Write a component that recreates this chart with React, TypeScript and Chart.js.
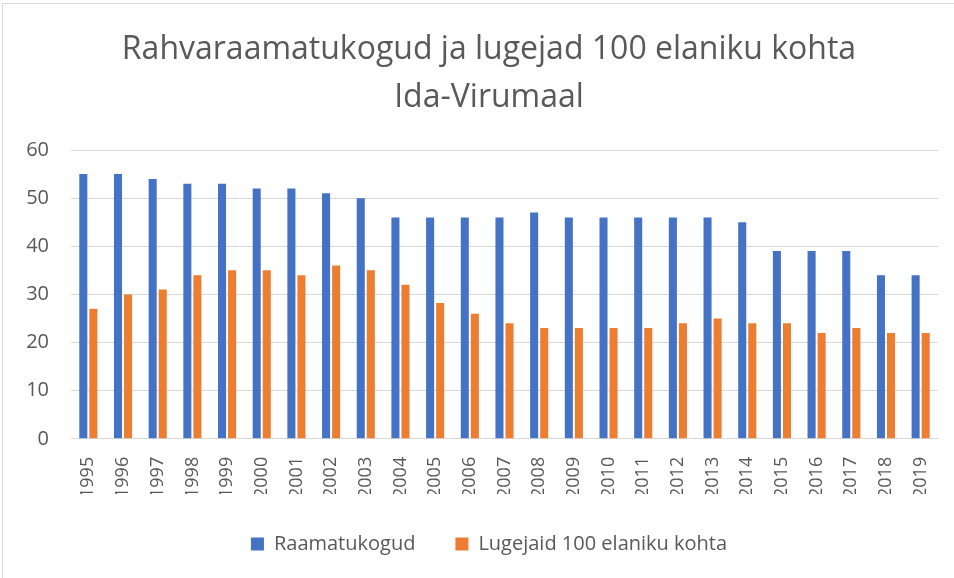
import React, { useEffect, useRef } from "react";
import { Chart, registerables } from "chart.js";

Chart.register(...registerables);

const years = ["1995","1996","1997","1998","1999","2000","2001","2002","2003","2004","2005","2006","2007","2008","2009","2010","2011","2012","2013","2014","2015","2016","2017","2018","2019"];
const raamatukogud = [55,55,54,53,53,52,52,51,50,46,46,46,46,47,46,46,46,46,46,45,39,39,39,34,34];
const lugejaid = [27,30,31,34,35,35,34,36,35,32,28.2,26,24,23,23,23,23,24,25,24,24,22,23,22,22];
const titleLines = ["Rahvaraamatukogud ja lugejad 100 elaniku kohta", "Ida-Virumaal"];
const seriesNames = ["Raamatukogud", "Lugejaid 100 elaniku kohta"];

const FONT = "'Open Sans', sans-serif";
const TEXT = "#595959";

// shift title & legend so they're centred like the original (Excel centres them on the whole chart)
const shiftBlocks = {
  id: "shiftBlocks",
  afterLayout(chart: any) {
    const dx = 18;
    for (const b of [chart.titleBlock, chart.legend]) {
      if (b) { b.left += dx; b.right += dx; }
    }
  },
};

export default function App() {
  const ref = useRef<HTMLCanvasElement | null>(null);
  useEffect(() => {
    if (!ref.current) return;
    const chart = new Chart(ref.current, {
      type: "bar",
      data: {
        labels: years,
        datasets: [
          { label: seriesNames[0], data: raamatukogud, backgroundColor: "#4472C4", borderWidth: 0 },
          { label: seriesNames[1], data: lugejaid, backgroundColor: "#ED7D31", borderWidth: 0 },
        ],
      },
      plugins: [shiftBlocks],
      options: {
        animation: false,
        responsive: false,
        maintainAspectRatio: false,
        layout: { padding: { left: 4, right: 16, top: 8, bottom: 14 } },
        datasets: { bar: { categoryPercentage: 0.58, barPercentage: 0.8 } },
        plugins: {
          title: {
            display: true,
            text: titleLines,
            color: TEXT,
            font: { family: FONT, size: 32, weight: "normal", lineHeight: 1.5 },
            padding: { top: 18, bottom: 28 },
          },
          legend: {
            position: "bottom",
            labels: {
              color: TEXT,
              font: { family: FONT, size: 20 },
              boxWidth: 13,
              boxHeight: 13,
              padding: 40,
            },
          },
          tooltip: { enabled: false },
        },
        scales: {
          x: {
            grid: { display: false },
            border: { color: "#d9d9d9" },
            ticks: {
              color: TEXT,
              font: { family: FONT, size: 18 },
              maxRotation: 90,
              minRotation: 90,
              autoSkip: false,
              padding: 10,
            },
            afterFit: (s: any) => { s.height = s.height - 14; },
          },
          y: {
            min: 0,
            max: 60,
            ticks: { stepSize: 10, color: TEXT, font: { family: FONT, size: 20 }, padding: 22 },
            grid: { color: "#d9d9d9", lineWidth: 1, drawTicks: false },
            border: { display: false },
            afterFit: (s: any) => { s.width = 67; },
          },
        },
      },
    });
    return () => chart.destroy();
  }, []);
  return (
    <div style={{ position: "fixed", left: 0, top: 0, width: 954, height: 578, background: "#fff" }}>
      <div style={{ position: "absolute", left: 2, top: 3, width: 960, height: 580, border: "1px solid #d9d9d9", boxSizing: "border-box" }} />
      <canvas ref={ref} width={954} height={578} style={{ position: "absolute", left: 0, top: 0 }} />
    </div>
  );
}
